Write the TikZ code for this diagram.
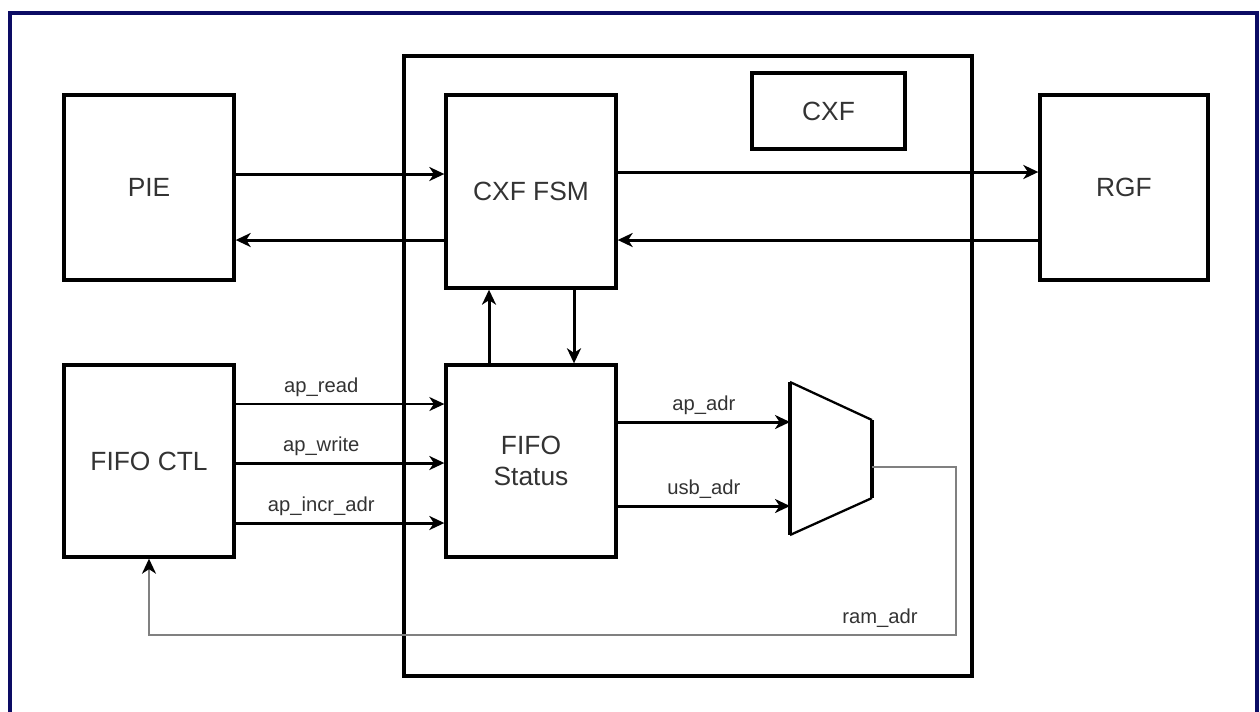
\documentclass[tikz,border=0pt]{standalone}
\usepackage{fontspec}
\setmainfont{Liberation Sans}
\usetikzlibrary{arrows.meta}
\definecolor{framenavy}{RGB}{12,12,100}
\tikzset{
  blk/.style={draw, line width=1.9pt, minimum width=3.4cm, minimum height=3.84cm,
    font=\fontsize{15}{18}\selectfont, text=black!80, align=center},
  arr/.style={line width=1.7pt, -{Stealth[length=0.3cm, width=0.28cm, inset=0.09cm]}},
  thinarr/.style={line width=1.1pt, -{Stealth[length=0.3cm, width=0.28cm, inset=0.09cm]}},
  lbl/.style={font=\fontsize{11.5}{13}\selectfont, text=black!80},
}
\begin{document}
\begin{tikzpicture}
    \useasboundingbox (0,0) rectangle (25.2,-14.22);
    % Frame
    \draw[framenavy, line width=2.8pt] (0.2,-14.5) -- (0.2,-0.26) -- (25.14,-0.26) -- (25.14,-14.5);

    % CXF
    \node[blk, minimum width=11.36cm, minimum height=12.4cm] (cxf) at (13.76,-7.32) {};
    \node[blk, minimum width=3.06cm, minimum height=1.52cm] (cxflbl) at (16.57,-2.22) {CXF};

    % Blocks
    \node[blk, minimum height=3.7cm] (pie) at (2.98,-3.75) {PIE};
    \node[blk, minimum height=3.86cm] (fsm) at (10.62,-3.83) {CXF FSM};
    \node[blk, minimum width=3.36cm, minimum height=3.7cm] (rgf) at (22.48,-3.75) {RGF};
    \node[blk] (ctl) at (2.98,-9.22) {FIFO CTL};
    \node[blk] (status) at (10.62,-9.22) {FIFO\\Status};

    % Mux
    \draw[line width=1.3pt] (15.8,-7.64) -- (17.44,-8.4) (17.44,-9.96) -- (15.8,-10.7);
    \draw[line width=1.9pt] (15.8,-7.64) -- (15.8,-10.7) (17.44,-8.4) -- (17.44,-9.96);
    \coordinate (muxin1) at (15.8,-8.44);
    \coordinate (muxin2) at (15.8,-10.12);
    \coordinate (muxout) at (17.44,-9.34);
    \coordinate (ramturn) at (19.12,-12.7);

    % PIE, RGF <-> FSM
    \draw[arr] ([yshift=0.27cm]pie.east) -- ([yshift=0.27cm]pie.east -| fsm.west);
    \draw[arr] ([yshift=-0.97cm]fsm.west) -- ([yshift=-0.97cm]fsm.west -| pie.east);
    \draw[arr] ([yshift=0.39cm]fsm.east) -- ([yshift=0.39cm]fsm.east -| rgf.west);
    \draw[arr] ([yshift=-1.05cm]rgf.west) -- ([yshift=-1.05cm]rgf.west -| fsm.east);
    \draw[arr] ([xshift=-0.84cm]status.north) -- ([xshift=-0.84cm]status.north |- fsm.south);
    \draw[arr] ([xshift=0.86cm]fsm.south) -- ([xshift=0.86cm]fsm.south |- status.north);

    % FIFO CTL -> FIFO Status
    \draw[thinarr] ([yshift=1.14cm]ctl.east) -- ([yshift=1.14cm]ctl.east -| status.west)
        node[lbl, above, pos=0.41] {ap\_read};
    \draw[arr] ([yshift=-0.04cm]ctl.east) -- ([yshift=-0.04cm]ctl.east -| status.west)
        node[lbl, above, pos=0.41] {ap\_write};
    \draw[arr] ([yshift=-1.24cm]ctl.east) -- ([yshift=-1.24cm]ctl.east -| status.west)
        node[lbl, above, pos=0.41] {ap\_incr\_adr};

    % FIFO Status -> Mux
    \draw[arr] (status.east |- muxin1) -- (muxin1) node[lbl, above, midway] {ap\_adr};
    \draw[arr] (status.east |- muxin2) -- (muxin2) node[lbl, above, midway] {usb\_adr};

    % ram_adr
    \draw[gray, line width=1.1pt, -{Stealth[black, length=0.3cm, width=0.28cm, inset=0.09cm]}]
        (muxout) -| (ramturn) -| (ctl.south);
    \node[lbl] (ramlbl) at (17.6,-12.36) {ram\_adr};
\end{tikzpicture}
\end{document}
